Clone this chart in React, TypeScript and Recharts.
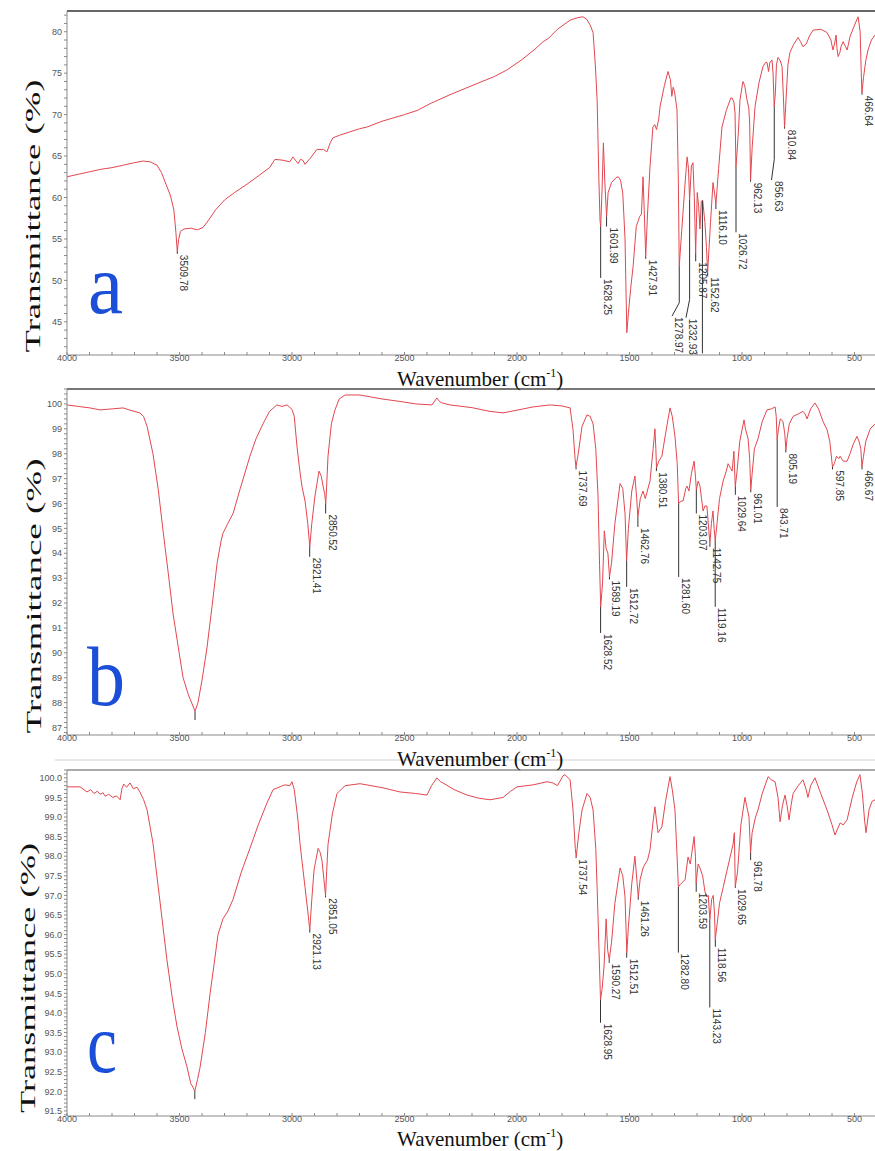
import { LineChart, Line, XAxis, YAxis, ReferenceLine, ReferenceDot } from "recharts";

type Peak = { label: string; wn: number; top: number; end: number; knee?: number; endWn?: number };

// spectrum (a): [wavenumber, transmittance %]
const spectrumA: number[][] = [
  [4000, 62.5], [3950, 62.8], [3900, 63.1], [3850, 63.4], [3800, 63.6], [3750, 63.9], [3700, 64.2], [3662, 64.4],
  [3630, 64.3], [3600, 63.9], [3580, 63.0], [3560, 61.6], [3540, 60.2], [3525, 58.5], [3516, 55.8], [3510, 53.5],
  [3504, 54.9], [3496, 55.9], [3480, 56.2], [3450, 56.3], [3420, 56.1], [3395, 56.4], [3370, 57.3], [3340, 58.5],
  [3300, 59.7], [3250, 60.7], [3200, 61.6], [3150, 62.6], [3100, 63.6], [3076, 64.6], [3040, 64.5], [3010, 64.3],
  [2996, 64.9], [2985, 64.5], [2973, 64.1], [2962, 64.6], [2952, 64.5], [2942, 64.0], [2920, 64.7], [2889, 65.8],
  [2860, 65.8], [2845, 65.5], [2830, 66.6], [2818, 67.2], [2790, 67.5], [2756, 67.8], [2700, 68.3], [2667, 68.5],
  [2600, 69.2], [2500, 70.0], [2444, 70.5], [2380, 71.4], [2298, 72.4], [2200, 73.5], [2100, 74.6], [2044, 75.4],
  [1980, 76.6], [1920, 77.9], [1884, 78.8], [1860, 79.2], [1820, 80.3], [1764, 81.4], [1730, 81.7], [1707, 81.8],
  [1690, 81.5], [1675, 80.8], [1662, 79.9], [1652, 76.0], [1644, 71.8], [1636, 62.0], [1631, 57.2], [1628, 56.5],
  [1622, 61.0], [1616, 66.6], [1610, 62.0], [1602, 57.7], [1595, 60.6], [1580, 61.8], [1560, 62.4], [1550, 62.5],
  [1540, 62.1], [1530, 60.5], [1520, 55.0], [1512, 43.7], [1505, 46.0], [1495, 49.0], [1484, 51.7], [1470, 56.5],
  [1455, 57.7], [1447, 58.0], [1440, 62.5], [1434, 58.0], [1428, 52.9], [1420, 58.0], [1409, 63.7], [1396, 68.5],
  [1388, 68.8], [1380, 68.2], [1370, 69.5], [1364, 71.0], [1345, 73.5], [1329, 75.2], [1318, 74.2], [1312, 72.2],
  [1306, 73.3], [1300, 72.8], [1289, 70.6], [1283, 62.0], [1279, 51.7], [1268, 56.0], [1255, 61.0], [1244, 64.9],
  [1238, 63.5], [1233, 59.7], [1225, 63.8], [1218, 64.2], [1212, 60.0], [1206, 53.3], [1199, 60.6], [1193, 59.0],
  [1187, 56.2], [1181, 59.5], [1175, 59.7], [1165, 57.0], [1158, 54.0], [1153, 50.9], [1140, 57.0], [1129, 61.8],
  [1122, 60.5], [1116, 59.2], [1104, 63.5], [1089, 68.5], [1070, 70.5], [1050, 72.0], [1044, 72.0], [1036, 71.5],
  [1031, 70.2], [1027, 63.7], [1022, 65.5], [1016, 68.0], [1009, 71.8], [996, 74.0], [988, 73.5], [978, 71.8],
  [970, 70.8], [966, 69.0], [962, 62.1], [955, 66.0], [942, 71.0], [925, 73.8], [907, 75.8], [895, 76.3],
  [889, 76.3], [882, 75.2], [876, 76.3], [867, 76.6], [862, 75.0], [857, 71.0], [852, 72.5], [847, 76.0],
  [840, 76.9], [830, 76.5], [822, 75.8], [816, 72.0], [811, 68.5], [804, 72.0], [796, 76.0], [787, 77.5],
  [770, 78.5], [751, 79.3], [740, 78.8], [729, 78.2], [715, 78.5], [700, 79.5], [684, 80.2], [650, 80.3],
  [622, 79.9], [605, 79.0], [596, 77.8], [589, 78.5], [582, 79.6], [578, 78.0], [573, 77.0], [565, 77.5],
  [560, 78.2], [551, 78.8], [540, 78.2], [533, 77.8], [527, 78.5], [520, 79.4], [500, 80.8], [484, 81.8],
  [475, 80.0], [470, 75.0], [467, 72.6], [460, 74.5], [450, 76.5], [440, 77.8], [425, 79.0], [409, 79.6],
];

// spectrum (b)
const spectrumB: number[][] = [
  [4000, 99.96], [3950, 99.9], [3898, 99.84], [3853, 99.76], [3800, 99.8], [3751, 99.84], [3720, 99.75], [3676, 99.64],
  [3660, 99.5], [3644, 99.1], [3618, 98.0], [3595, 96.6], [3573, 94.9], [3550, 93.2], [3529, 91.6], [3505, 90.2],
  [3484, 89.0], [3460, 88.3], [3444, 87.95], [3431, 87.65], [3418, 88.0], [3400, 88.9], [3378, 90.2], [3355, 91.9],
  [3333, 93.6], [3315, 94.5], [3307, 94.8], [3285, 95.2], [3262, 95.6], [3230, 96.6], [3187, 97.9], [3160, 98.6],
  [3129, 99.2], [3100, 99.7], [3067, 99.96], [3045, 99.9], [3022, 99.96], [3000, 99.78], [2990, 99.5], [2978, 98.3],
  [2965, 97.3], [2956, 96.7], [2942, 96.1], [2930, 95.2], [2921, 94.26], [2912, 95.2], [2898, 96.3], [2880, 97.3],
  [2870, 97.1], [2862, 96.7], [2855, 96.4], [2850, 96.0], [2845, 96.9], [2840, 97.9], [2825, 99.2], [2809, 99.76],
  [2790, 100.2], [2764, 100.36], [2698, 100.36], [2600, 100.2], [2520, 100.1], [2450, 100.0], [2378, 99.96], [2356, 100.24],
  [2345, 100.1], [2333, 100.04], [2298, 99.96], [2200, 99.85], [2120, 99.7], [2062, 99.64], [2000, 99.75], [1929, 99.88],
  [1853, 99.96], [1800, 99.92], [1764, 99.84], [1751, 98.96], [1742, 97.8], [1738, 97.47], [1728, 98.0], [1711, 99.1],
  [1689, 99.56], [1675, 99.5], [1662, 99.2], [1650, 98.2], [1640, 96.3], [1633, 93.5], [1628, 91.85], [1620, 92.8],
  [1612, 94.9], [1604, 94.2], [1596, 94.0], [1589, 93.05], [1580, 93.6], [1565, 95.2], [1542, 96.8], [1530, 96.6],
  [1520, 95.6], [1513, 93.7], [1505, 95.0], [1490, 96.5], [1476, 97.1], [1468, 96.2], [1463, 95.46], [1452, 96.2],
  [1440, 96.5], [1430, 96.2], [1409, 96.9], [1395, 98.2], [1387, 99.0], [1383, 98.2], [1380, 97.43], [1370, 97.7],
  [1356, 97.9], [1340, 98.8], [1320, 99.84], [1310, 99.5], [1298, 98.7], [1288, 97.6], [1282, 96.0], [1270, 96.1],
  [1262, 96.1], [1250, 96.6], [1244, 96.7], [1236, 96.5], [1225, 97.2], [1213, 97.7], [1207, 97.1], [1203, 96.55],
  [1195, 96.9], [1187, 96.7], [1180, 96.2], [1173, 95.7], [1165, 95.9], [1156, 95.9], [1150, 95.2], [1143, 94.4],
  [1136, 95.2], [1129, 95.7], [1124, 95.0], [1119, 94.5], [1110, 95.3], [1100, 96.2], [1084, 96.9], [1070, 97.3],
  [1062, 97.6], [1050, 97.4], [1044, 97.3], [1036, 98.1], [1030, 96.67], [1022, 97.3], [1010, 98.5], [991, 99.36],
  [985, 99.0], [973, 98.6], [966, 97.8], [961, 96.55], [955, 97.2], [945, 98.2], [929, 98.6], [910, 99.3],
  [889, 99.76], [870, 99.8], [853, 99.88], [848, 99.5], [844, 98.55], [838, 99.0], [830, 99.4], [818, 99.3],
  [810, 98.8], [805, 98.15], [800, 98.6], [790, 99.2], [773, 99.5], [750, 99.6], [729, 99.7], [720, 99.6],
  [711, 99.4], [695, 99.8], [676, 100.04], [660, 99.8], [640, 99.3], [622, 98.96], [610, 98.5], [598, 97.47],
  [590, 97.6], [580, 97.9], [570, 97.8], [564, 97.9], [550, 97.7], [533, 97.7], [520, 98.0], [505, 98.4],
  [489, 98.7], [480, 98.5], [472, 98.2], [467, 97.47], [460, 97.9], [450, 98.5], [430, 99.0], [409, 99.2],
];

// spectrum (c)
const spectrumC: number[][] = [
  [4000, 99.77], [3942, 99.77], [3911, 99.64], [3895, 99.7], [3880, 99.6], [3865, 99.66], [3853, 99.58], [3840, 99.62],
  [3830, 99.53], [3815, 99.58], [3796, 99.5], [3780, 99.54], [3764, 99.44], [3756, 99.72], [3748, 99.84], [3735, 99.76],
  [3720, 99.87], [3705, 99.72], [3689, 99.76], [3676, 99.64], [3660, 99.45], [3644, 99.18], [3618, 98.34], [3590, 97.0],
  [3556, 95.36], [3530, 94.3], [3511, 93.65], [3490, 93.1], [3467, 92.63], [3450, 92.2], [3440, 92.1], [3432, 92.0],
  [3420, 92.3], [3409, 92.6], [3385, 93.5], [3364, 94.5], [3345, 95.3], [3329, 96.0], [3307, 96.4], [3285, 96.6],
  [3262, 96.9], [3225, 97.6], [3187, 98.2], [3150, 98.8], [3111, 99.36], [3084, 99.7], [3050, 99.78], [3031, 99.82],
  [3010, 99.8], [3000, 99.9], [2990, 99.7], [2975, 99.0], [2964, 98.3], [2942, 97.2], [2930, 96.6], [2921, 96.12],
  [2912, 96.9], [2902, 97.65], [2884, 98.2], [2875, 98.1], [2867, 97.9], [2858, 97.4], [2851, 97.0], [2846, 97.6],
  [2840, 98.3], [2820, 99.1], [2800, 99.6], [2764, 99.8], [2698, 99.85], [2600, 99.75], [2520, 99.64], [2450, 99.6],
  [2400, 99.56], [2380, 99.8], [2356, 100.0], [2340, 99.9], [2329, 99.87], [2280, 99.7], [2222, 99.56], [2170, 99.48],
  [2120, 99.44], [2062, 99.5], [2030, 99.65], [2000, 99.77], [1929, 99.82], [1867, 99.9], [1840, 99.87], [1820, 99.8],
  [1796, 100.05], [1787, 100.08], [1764, 99.95], [1751, 99.18], [1741, 98.2], [1737, 97.98], [1725, 98.6], [1711, 99.18],
  [1689, 99.6], [1675, 99.5], [1662, 99.18], [1650, 98.2], [1644, 97.2], [1635, 95.5], [1629, 94.34], [1622, 94.6],
  [1613, 95.2], [1604, 96.4], [1597, 95.6], [1590, 95.36], [1580, 95.8], [1565, 96.8], [1542, 97.7], [1530, 97.5],
  [1520, 96.96], [1512, 95.54], [1505, 96.2], [1490, 97.3], [1476, 98.0], [1466, 97.3], [1461, 96.96], [1453, 97.4],
  [1440, 97.7], [1431, 97.8], [1420, 97.9], [1409, 98.16], [1395, 98.9], [1387, 99.26], [1380, 98.9], [1373, 98.6],
  [1356, 98.75], [1340, 99.4], [1320, 100.03], [1310, 99.7], [1298, 99.18], [1288, 97.9], [1283, 97.22], [1271, 97.3],
  [1253, 97.4], [1240, 97.98], [1230, 97.8], [1213, 98.5], [1207, 98.0], [1204, 97.32], [1195, 97.8], [1187, 97.7],
  [1175, 97.5], [1165, 97.1], [1156, 96.96], [1150, 97.0], [1143, 96.38], [1135, 96.9], [1128, 97.0], [1122, 96.5],
  [1119, 95.87], [1110, 96.3], [1100, 96.8], [1084, 97.2], [1053, 97.98], [1040, 98.3], [1034, 98.6], [1030, 97.22],
  [1020, 97.6], [1005, 98.8], [987, 99.5], [980, 99.3], [969, 99.0], [962, 98.09], [955, 98.6], [940, 99.0],
  [929, 99.18], [910, 99.6], [884, 100.03], [870, 99.95], [853, 99.9], [840, 99.5], [831, 98.88], [820, 99.3],
  [809, 99.56], [800, 99.3], [791, 98.93], [782, 99.3], [773, 99.6], [750, 99.8], [729, 99.95], [715, 99.7],
  [707, 99.5], [695, 99.8], [676, 100.0], [650, 99.6], [622, 99.18], [600, 98.8], [587, 98.54], [575, 98.7],
  [564, 98.85], [550, 98.8], [533, 98.93], [510, 99.5], [490, 99.9], [476, 100.08], [465, 99.6], [455, 98.9],
  [449, 98.6], [435, 99.2], [422, 99.4], [409, 99.44],
];

const peaksA: Peak[] = [
  { label: "3509.78", wn: 3509.78, top: 53.5, end: 53.2 },
  { label: "1628.25", wn: 1628.25, top: 56.5, end: 50.3 },
  { label: "1601.99", wn: 1601.99, top: 57.7, end: 56.5 },
  { label: "1427.91", wn: 1427.91, top: 52.9, end: 52.6 },
  { label: "1278.97", wn: 1278.97, top: 51.7, knee: 47.3, endWn: 1311, end: 45.7 },
  { label: "1232.93", wn: 1232.93, top: 59.7, knee: 47.7, endWn: 1249, end: 45.5 },
  { label: "1205.87", wn: 1205.87, top: 53.3, end: 52.3 },
  { label: "", wn: 1176, top: 59.6, end: 41.2 },
  { label: "1152.62", wn: 1152.62, top: 50.9, end: 50.5 },
  { label: "1116.10", wn: 1116.1, top: 59.2, end: 58.6 },
  { label: "1026.72", wn: 1026.72, top: 63.7, end: 55.8 },
  { label: "962.13", wn: 962.13, top: 62.1, end: 61.9 },
  { label: "856.63", wn: 856.63, top: 71.0, knee: 64.6, endWn: 869, end: 62.1 },
  { label: "810.84", wn: 810.84, top: 68.5, end: 68.3 },
  { label: "466.64", wn: 466.64, top: 72.6, end: 72.4 },
];

const peaksB: Peak[] = [
  { label: "", wn: 3431, top: 87.65, end: 87.3 },
  { label: "2921.41", wn: 2921.41, top: 94.26, end: 93.86 },
  { label: "2850.52", wn: 2850.52, top: 96.0, end: 95.6 },
  { label: "1737.69", wn: 1737.69, top: 97.47, end: 97.37 },
  { label: "1628.52", wn: 1628.52, top: 91.85, end: 90.8 },
  { label: "1589.19", wn: 1589.19, top: 93.05, end: 92.95 },
  { label: "1512.72", wn: 1512.72, top: 93.7, end: 92.65 },
  { label: "1462.76", wn: 1462.76, top: 95.46, end: 95.06 },
  { label: "1380.51", wn: 1380.51, top: 97.43, end: 97.3 },
  { label: "1281.60", wn: 1281.6, top: 96.0, end: 93.05 },
  { label: "1203.07", wn: 1203.07, top: 96.55, end: 95.6 },
  { label: "1142.75", wn: 1142.75, top: 94.4, end: 94.26 },
  { label: "1119.16", wn: 1119.16, top: 94.5, end: 91.85 },
  { label: "1029.64", wn: 1029.64, top: 96.67, end: 96.35 },
  { label: "961.01", wn: 961.01, top: 96.55, end: 96.45 },
  { label: "843.71", wn: 843.71, top: 98.55, end: 95.86 },
  { label: "805.19", wn: 805.19, top: 98.15, end: 98.05 },
  { label: "597.85", wn: 597.85, top: 97.47, end: 97.37 },
  { label: "466.67", wn: 466.67, top: 97.47, end: 97.37 },
];

const peaksC: Peak[] = [
  { label: "", wn: 3432, top: 92.0, end: 91.8 },
  { label: "2921.13", wn: 2921.13, top: 96.12, end: 96.05 },
  { label: "2851.05", wn: 2851.05, top: 97.0, end: 96.95 },
  { label: "1737.54", wn: 1737.54, top: 97.98, end: 97.95 },
  { label: "1628.95", wn: 1628.95, top: 94.34, end: 93.75 },
  { label: "1590.27", wn: 1590.27, top: 95.36, end: 95.28 },
  { label: "1512.51", wn: 1512.51, top: 95.54, end: 95.41 },
  { label: "1461.26", wn: 1461.26, top: 96.96, end: 96.89 },
  { label: "1282.80", wn: 1282.8, top: 97.22, end: 95.54 },
  { label: "1203.59", wn: 1203.59, top: 97.32, end: 97.09 },
  { label: "1143.23", wn: 1143.23, top: 96.38, end: 94.14 },
  { label: "1118.56", wn: 1118.56, top: 95.87, end: 95.69 },
  { label: "1029.65", wn: 1029.65, top: 97.22, end: 97.19 },
  { label: "961.78", wn: 961.78, top: 98.09, end: 97.9 },
];

const xMajor = [4000, 3500, 3000, 2500, 2000, 1500, 1000, 500];
const yMajorA = [45, 50, 55, 60, 65, 70, 75, 80];
const yMajorB = [87, 88, 89, 90, 91, 92, 93, 94, 95, 96, 97, 98, 99, 100];
const yMajorC = [91.5, 92, 92.5, 93, 93.5, 94, 94.5, 95, 95.5, 96, 96.5, 97, 97.5, 98, 98.5, 99, 99.5, 100];

const range = (a: number, b: number, s: number) => {
  const out: number[] = [];
  for (let v = a; v <= b + 1e-9; v += s) out.push(Math.round(v * 100) / 100);
  return out;
};
const xTicks = range(500, 4000, 100);

const SANS = "'Liberation Sans', Arial, sans-serif";
const SERIF = "'Liberation Serif', 'Times New Roman', serif";
const RED = "#e2474f";

const toRows = (s: number[][]) => s.map(([wn, t]) => ({ wn, t }));

const peakText = (label: string) => (p: any) => {
  const { cx, cy } = p;
  return (
    <text x={cx + 1} y={cy - 3} transform={`rotate(90, ${cx}, ${cy})`} fontSize={10} fill="#333" fontFamily={SANS}>
      {label}
    </text>
  );
};

interface PanelProps {
  top: number;
  height: number;
  margin: { top: number; right: number; left: number; bottom: number };
  series: number[][];
  peaks: Peak[];
  yDomain: [number, number];
  yTicks: number[];
  yMajor: number[];
  decimals: number;
  borderColor: string;
}

function Panel({ top, height, margin, series, peaks, yDomain, yTicks, yMajor, decimals, borderColor }: PanelProps) {
  return (
    <div style={{ position: "absolute", left: 0, top }}>
      <LineChart width={875} height={height} data={toRows(series)} margin={margin}>
        <XAxis
          type="number"
          dataKey="wn"
          domain={[409, 4000]}
          reversed
          allowDataOverflow
          ticks={xTicks}
          interval={0}
          tickFormatter={(v: number) => (xMajor.includes(v) ? String(v) : "")}
          tickSize={-3}
          tickMargin={3}
          height={20}
          axisLine={{ stroke: "#8a8a8a" }}
          tickLine={{ stroke: "#8a8a8a" }}
          tick={{ fontSize: 9, fill: "#555", fontFamily: SANS }}
        />
        <YAxis
          type="number"
          domain={yDomain}
          allowDataOverflow
          ticks={yTicks}
          interval={0}
          tickFormatter={(v: number) => (yMajor.some((m) => Math.abs(m - v) < 1e-6) ? v.toFixed(decimals) : "")}
          width={40}
          tickSize={3}
          tickMargin={2}
          axisLine={{ stroke: "#8a8a8a" }}
          tickLine={{ stroke: "#8a8a8a" }}
          tick={{ fontSize: 9, fill: "#555", fontFamily: SANS }}
        />
        <ReferenceLine y={yDomain[1]} stroke={borderColor} strokeWidth={2} />
        <Line type="linear" dataKey="t" stroke={RED} strokeWidth={1} dot={false} isAnimationActive={false} />
        {peaks.map((p, i) =>
          p.knee !== undefined ? (
            [
              <ReferenceLine key={`k${i}`} segment={[{ x: p.wn, y: p.top }, { x: p.wn, y: p.knee }]} stroke="#333" />,
              <ReferenceLine key={`s${i}`} segment={[{ x: p.wn, y: p.knee }, { x: p.endWn, y: p.end }]} stroke="#333" />,
            ]
          ) : (
            <ReferenceLine key={`l${i}`} segment={[{ x: p.wn, y: p.top }, { x: p.wn, y: p.end }]} stroke="#333" />
          )
        )}
        {peaks
          .filter((p) => p.label)
          .map((p, i) => (
            <ReferenceDot key={`t${i}`} x={p.endWn ?? p.wn} y={p.end} r={0} shape={peakText(p.label)} />
          ))}
      </LineChart>
    </div>
  );
}

const yTitles = [
  { x: 40, y: 216, len: 273 },
  { x: 41, y: 596, len: 275 },
  { x: 35, y: 978, len: 270 },
];
const xTitleBaselines = [386, 766, 1146];
const panelLetters = [
  { t: "a", x: 88, y: 313, len: 35 },
  { t: "b", x: 87, y: 705, len: 38 },
  { t: "c", x: 87, y: 1072, len: 30 },
];

export default function App() {
  return (
    <div style={{ position: "absolute", left: 0, top: 0, width: 875, height: 1151, background: "#fff", overflow: "hidden" }}>
      <Panel
        top={0}
        height={380}
        margin={{ top: 11, right: 0, left: 27, bottom: 5 }}
        series={spectrumA}
        peaks={peaksA}
        yDomain={[41, 82.5]}
        yTicks={range(42, 82, 1)}
        yMajor={yMajorA}
        decimals={0}
        borderColor="#666"
      />
      <Panel
        top={380}
        height={380}
        margin={{ top: 9, right: 0, left: 27, bottom: 5 }}
        series={spectrumB}
        peaks={peaksB}
        yDomain={[86.7, 100.6]}
        yTicks={range(86.8, 100.6, 0.2)}
        yMajor={yMajorB}
        decimals={0}
        borderColor="#777"
      />
      <Panel
        top={760}
        height={391}
        margin={{ top: 10, right: 0, left: 27, bottom: 15 }}
        series={spectrumC}
        peaks={peaksC}
        yDomain={[91.37, 100.2]}
        yTicks={range(91.4, 100.2, 0.1)}
        yMajor={yMajorC}
        decimals={1}
        borderColor="#aaa"
      />
      <svg width={875} height={1151} style={{ position: "absolute", left: 0, top: 0, pointerEvents: "none" }}>
        <line x1={55} y1={760} x2={875} y2={760} stroke="#d0d0d0" strokeWidth={1} />
        {yTitles.map((t, i) => (
          <text
            key={`y${i}`}
            x={t.x}
            y={t.y}
            transform={`rotate(-90, ${t.x}, ${t.y})`}
            textAnchor="middle"
            fontFamily={SERIF}
            fontSize={22}
            fill="#111"
            textLength={t.len}
            lengthAdjust="spacingAndGlyphs"
          >
            Transmittance (%)
          </text>
        ))}
        {xTitleBaselines.map((y, i) => (
          <text key={`x${i}`} x={397} y={y} fontFamily={SERIF} fontSize={21} fill="#111">
            Wavenumber (cm
            <tspan fontSize={12} dy={-9}>-1</tspan>
            <tspan dy={9}>)</tspan>
          </text>
        ))}
        {panelLetters.map((l) => (
          <text key={l.t} x={l.x} y={l.y} fontFamily={SERIF} fontSize={84} fill="#1c4fd8" textLength={l.len} lengthAdjust="spacingAndGlyphs">
            {l.t}
          </text>
        ))}
      </svg>
    </div>
  );
}
